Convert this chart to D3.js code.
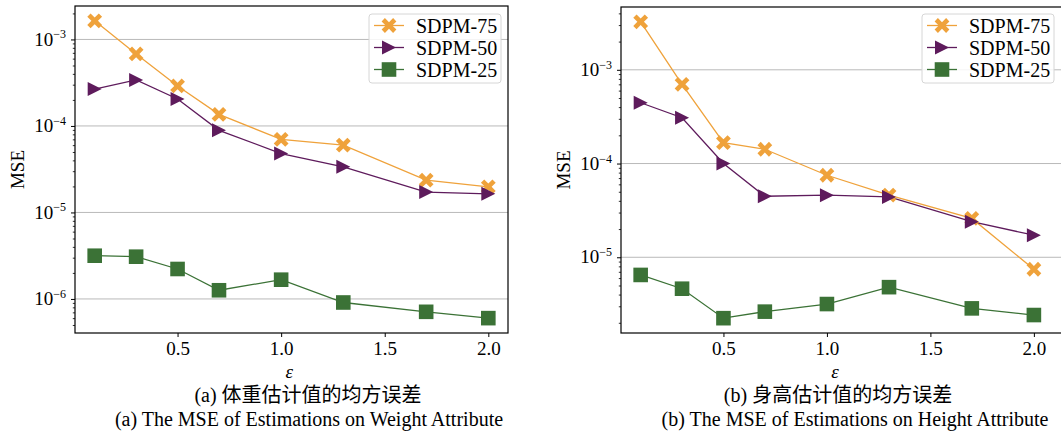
<!DOCTYPE html>
<html>
<head>
<meta charset="utf-8">
<script src="https://cdn.jsdelivr.net/npm/d3@7"></script>
<style>
  body { margin: 0; background: #fff; }
  svg { display: block; font-family: "Liberation Serif", "Times New Roman", serif; }
  text { font-family: "Liberation Serif", "Times New Roman", serif; fill: #000; }
  .cjk { font-family: "Liberation Serif", "Noto Sans CJK SC", serif; }
</style>
</head>
<body>
<div id="vizHolder"></div>
<script>
// data
var epsilons = [0.1, 0.3, 0.5, 0.7, 1.0, 1.3, 1.7, 2.0];

var weight75 = [1.64e-3, 6.8e-4, 2.9e-4, 1.36e-4, 7.0e-5, 6.0e-5, 2.36e-5, 1.98e-5];
var weight50 = [2.67e-4, 3.4e-4, 2.05e-4, 8.9e-5, 4.8e-5, 3.37e-5, 1.72e-5, 1.64e-5];
var weight25 = [3.16e-6, 3.08e-6, 2.22e-6, 1.26e-6, 1.67e-6, 9.1e-7, 7.1e-7, 6.0e-7];

var height75 = [3.25e-3, 7.0e-4, 1.67e-4, 1.42e-4, 7.5e-5, 4.6e-5, 2.6e-5, 7.45e-6];
var height50 = [4.45e-4, 3.08e-4, 1.0e-4, 4.48e-5, 4.6e-5, 4.4e-5, 2.4e-5, 1.72e-5];
var height25 = [6.48e-6, 4.62e-6, 2.24e-6, 2.63e-6, 3.17e-6, 4.8e-6, 2.85e-6, 2.42e-6];

var seriesNames = ['SDPM-75', 'SDPM-50', 'SDPM-25'];
var seriesColors = ['#efa23b', '#5e1b5c', '#3b7236'];
var xTicks = [0.5, 1.0, 1.5, 2.0];
var yTickExps = [-6, -5, -4, -3];
var xLabel = 'ε';
var yLabel = 'MSE';
var captionsA = ['(a) 体重估计值的均方误差', '(a) The MSE of Estimations on Weight Attribute'];
var captionsB = ['(b) 身高估计值的均方误差', '(b) The MSE of Estimations on Height Attribute'];

var W = 1061, H = 439;

var svg = d3.select('#vizHolder').append('svg')
	.attr('width', W)
	.attr('height', H);

// marker shapes, centred on the point
function markerPath(kind) {
	if (kind === 0) {
		// filled X, chunky like matplotlib's 'X'
		var a = 7.4, t = 3.3;
		var p = d3.path();
		p.moveTo(-a + t, -a); p.lineTo(0, -t); p.lineTo(a - t, -a); p.lineTo(a, -a + t);
		p.lineTo(t, 0); p.lineTo(a, a - t); p.lineTo(a - t, a); p.lineTo(0, t);
		p.lineTo(-a + t, a); p.lineTo(-a, a - t); p.lineTo(-t, 0); p.lineTo(-a, -a + t);
		p.closePath();
		return p.toString();
	}
	if (kind === 1) return 'M-7,-7L7,0L-7,7Z';
	return 'M-7.3,-7.3H7.3V7.3H-7.3Z';
}

function drawPanel(opt) {
	var series = opt.series;
	var all = [].concat.apply([], series);
	var lo = Math.log10(d3.min(all)), hi = Math.log10(d3.max(all));
	var m = (hi - lo) * 0.05;

	var xScale = d3.scaleLinear()
		.domain(opt.xDomain)
		.range([opt.left, opt.right]);

	var yScale = d3.scaleLog()
		.domain([Math.pow(10, lo - m), Math.pow(10, hi + m)])
		.range([opt.bottom, opt.top]);

	var g = svg.append('g');

	// clip to axes box
	var clipId = 'clip' + opt.id;
	g.append('clipPath').attr('id', clipId)
		.append('rect')
		.attr('x', opt.left).attr('y', opt.top)
		.attr('width', opt.right - opt.left).attr('height', opt.bottom - opt.top);

	// grid on major decades
	g.append('g').selectAll('line')
		.data(yTickExps.filter(function(e) {
			var v = Math.pow(10, e); return v >= yScale.domain()[0] && v <= yScale.domain()[1];
		}))
		.enter().append('line')
		.attr('x1', opt.left).attr('x2', opt.right)
		.attr('y1', function(e) { return yScale(Math.pow(10, e)); })
		.attr('y2', function(e) { return yScale(Math.pow(10, e)); })
		.attr('stroke', '#b9b9b9')
		.attr('stroke-width', 1);

	// y axis: major ticks with superscript labels
	var majors = yTickExps.map(function(e) { return Math.pow(10, e); })
		.filter(function(v) { return v >= yScale.domain()[0] && v <= yScale.domain()[1]; });
	var minors = [];
	for (var e = -8; e <= -1; e++) {
		for (var k = 2; k <= 9; k++) {
			var v = k * Math.pow(10, e);
			if (v >= yScale.domain()[0] && v <= yScale.domain()[1]) minors.push(v);
		}
	}

	var yAxis = g.append('g')
		.attr('transform', 'translate(' + opt.left + ',0)')
		.call(d3.axisLeft(yScale).tickValues(majors).tickSize(4).tickPadding(5).tickFormat(''));
	yAxis.attr('font-family', null);
	yAxis.select('.domain').remove();
	yAxis.selectAll('.tick line').attr('stroke', '#000').attr('stroke-width', 1);

	var yMinor = g.append('g')
		.attr('transform', 'translate(' + opt.left + ',0)')
		.call(d3.axisLeft(yScale).tickValues(minors).tickSize(2.2).tickFormat(''));
	yMinor.select('.domain').remove();
	yMinor.selectAll('.tick line').attr('stroke', '#000').attr('stroke-width', 0.8);

	yAxis.selectAll('.tick').each(function(d) {
		var t = d3.select(this).append('text')
			.attr('x', -9)
			.attr('dy', '0.3em')
			.attr('text-anchor', 'end')
			.attr('fill', '#000')
			.style('font-size', '19px');
		t.append('tspan').text('10');
		t.append('tspan')
			.attr('dy', '-0.6em')
			.style('font-size', '12px')
			.text('−' + (-Math.round(Math.log10(d))));
	});

	// x axis
	var xAxis = g.append('g')
		.attr('transform', 'translate(0,' + opt.bottom + ')')
		.call(d3.axisBottom(xScale).tickValues(xTicks).tickSize(4).tickPadding(5)
			.tickFormat(d3.format('.1f')));
	xAxis.attr('font-family', null);
	xAxis.select('.domain').remove();
	xAxis.selectAll('.tick line').attr('stroke', '#000');
	xAxis.selectAll('.tick text')
		.attr('fill', '#000')
		.style('font-size', '19px');

	// series
	var line = d3.line()
		.x(function(d, i) { return xScale(epsilons[i]); })
		.y(function(d) { return yScale(d); });

	var plot = g.append('g').attr('clip-path', 'url(#' + clipId + ')');
	series.forEach(function(vals, si) {
		plot.append('path')
			.datum(vals)
			.attr('d', line)
			.attr('fill', 'none')
			.attr('stroke', seriesColors[si])
			.attr('stroke-width', 1.3);
	});
	series.forEach(function(vals, si) {
		plot.selectAll('.m' + si)
			.data(vals)
			.enter().append('path')
			.attr('class', 'm' + si)
			.attr('d', markerPath(si))
			.attr('transform', function(d, i) {
				return 'translate(' + xScale(epsilons[i]) + ',' + yScale(d) + ')';
			})
			.attr('fill', seriesColors[si]);
	});

	// axes frame
	g.append('rect')
		.attr('x', opt.left).attr('y', opt.top)
		.attr('width', opt.right - opt.left).attr('height', opt.bottom - opt.top)
		.attr('fill', 'none')
		.attr('stroke', '#000')
		.attr('stroke-width', 1.2);

	// legend
	var lg = g.append('g').attr('transform', 'translate(' + opt.legendX + ',14)');
	lg.append('rect')
		.attr('width', 132).attr('height', 69)
		.attr('rx', 3)
		.attr('fill', '#fff')
		.attr('fill-opacity', 0.85)
		.attr('stroke', '#d6d6d6');
	seriesNames.forEach(function(name, si) {
		var row = lg.append('g').attr('transform', 'translate(0,' + (11.5 + si * 22) + ')');
		row.append('line')
			.attr('x1', 5).attr('x2', 35)
			.attr('stroke', seriesColors[si]).attr('stroke-width', 1.3);
		row.append('path')
			.attr('d', markerPath(si))
			.attr('transform', 'translate(20,0)')
			.attr('fill', seriesColors[si]);
		row.append('text')
			.attr('x', 47)
			.attr('dy', '0.35em')
			.style('font-size', '20px')
			.text(name);
	});

	// axis titles
	svg.append('text')
		.attr('transform', 'translate(' + opt.yLabelX + ',' + ((opt.top + opt.bottom) / 2) + ') rotate(-90)')
		.attr('text-anchor', 'middle')
		.attr('dy', '0.35em')
		.style('font-size', '19px')
		.text(yLabel);

	svg.append('text')
		.attr('x', xScale(1.0) + 8)
		.attr('y', 378)
		.attr('text-anchor', 'middle')
		.style('font-size', '19px')
		.style('font-style', 'italic')
		.text(xLabel);

	svg.append('text')
		.attr('class', 'cjk')
		.attr('x', opt.capX[0])
		.attr('y', 402)
		.attr('text-anchor', 'middle')
		.style('font-size', '20px')
		.text(opt.captions[0]);

	svg.append('text')
		.attr('x', opt.capX[1])
		.attr('y', 426)
		.attr('text-anchor', 'middle')
		.style('font-size', '20px')
		.text(opt.captions[1]);
}

drawPanel({
	id: 'a',
	series: [weight75, weight50, weight25],
	xDomain: [0.005, 2.095],
	left: 75, right: 508, top: 6, bottom: 333,
	legendX: 369,
	yLabelX: 17,
	captions: captionsA,
	capX: [308, 309]
});

drawPanel({
	id: 'b',
	series: [height75, height50, height25],
	xDomain: [0.005, 2.16],
	left: 621, right: 1067, top: 7, bottom: 333,
	legendX: 922,
	yLabelX: 563,
	captions: captionsB,
	capX: [838, 855]
});
</script>
</body>
</html>
